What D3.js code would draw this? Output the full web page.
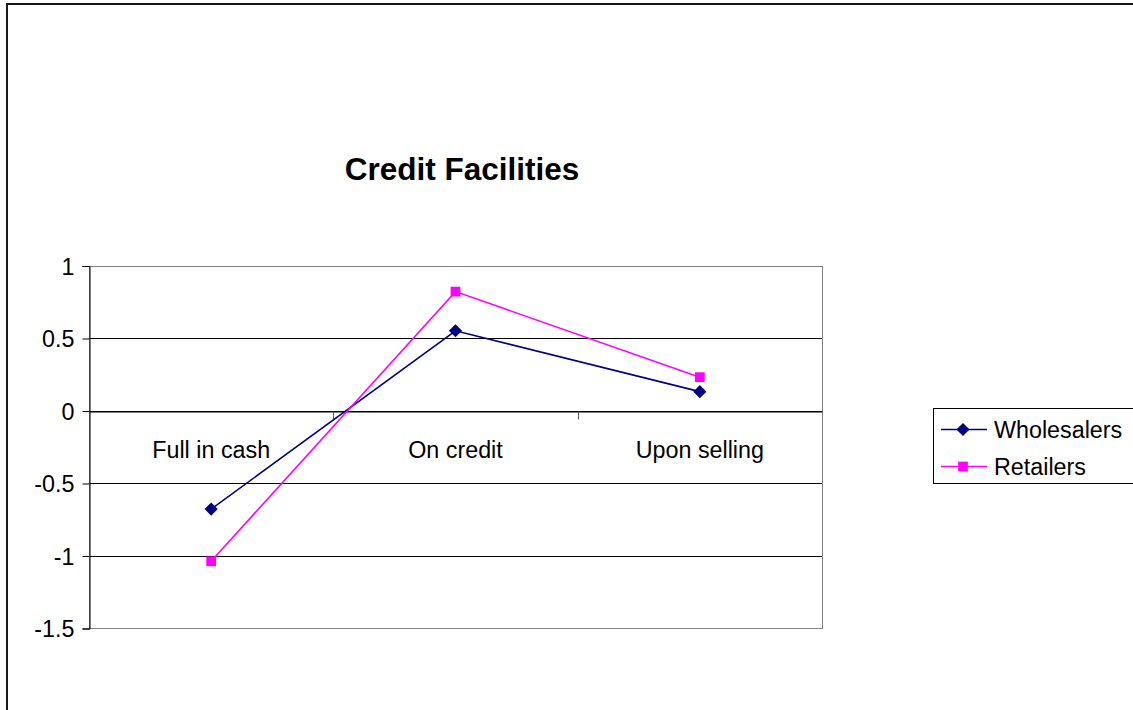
<!DOCTYPE html>
<html>
<head>
<meta charset="utf-8">
<script src="https://cdn.jsdelivr.net/npm/d3@7"></script>
<style>
  html, body { margin: 0; padding: 0; background: #fff; }
  svg { display: block; font-family: "Liberation Sans", Arial, sans-serif; }
</style>
</head>
<body>
<svg id="chart" width="1133" height="710"></svg>
<script>
// Payment terms compared across two trader groups
const categories = ["Full in cash", "On credit", "Upon selling"];
const wholesalers = [-0.68, 0.55, 0.13];
const retailers = [-1.04, 0.82, 0.23];
const yTicks = [1, 0.5, 0, -0.5, -1, -1.5];
const yTickLabels = ["1", "0.5", "0", "-0.5", "-1", "-1.5"];
const seriesNames = ["Wholesalers", "Retailers"];
const seriesColors = ["#000080", "#FF00FF"];

const svg = d3.select("#chart");
const W = 1133, H = 710;

// Chart frame
svg.append("rect")
  .attr("x", 7).attr("y", 4)
  .attr("width", W + 20).attr("height", H + 20)
  .attr("fill", "#fff")
  .attr("stroke", "#1a1a1a").attr("stroke-width", 2);

// Plot area geometry
const plot = { left: 89, right: 822, top: 265.5, bottom: 628 };

const x = d3.scaleBand().domain(categories).range([plot.left, plot.right]);
const y = d3.scaleLinear().domain([-1.5, 1]).range([plot.bottom, plot.top]);
const cx = c => x(c) + x.bandwidth() / 2;

// Title
svg.append("text")
  .attr("x", 462).attr("y", 179.5)
  .attr("text-anchor", "middle")
  .attr("font-size", 31.5).attr("font-weight", "bold")
  .attr("fill", "#000")
  .text("Credit Facilities");

// Horizontal gridlines
svg.append("g")
  .selectAll("line")
  .data(yTicks.filter(t => t !== 1 && t !== -1.5))
  .join("line")
  .attr("x1", plot.left).attr("x2", plot.right)
  .attr("y1", d => Math.round(y(d)) + 0.5)
  .attr("y2", d => Math.round(y(d)) + 0.5)
  .attr("stroke", "#000").attr("stroke-width", 1);

// Plot area border
svg.append("rect")
  .attr("x", plot.left + 0.5).attr("y", Math.round(plot.top) + 0.5)
  .attr("width", plot.right - plot.left)
  .attr("height", Math.round(plot.bottom) - Math.round(plot.top))
  .attr("fill", "none")
  .attr("stroke", "#808080").attr("stroke-width", 1);

// Value axis
const yAxis = d3.axisLeft(y)
  .tickValues(yTicks)
  .tickSize(7)
  .tickPadding(8)
  .tickFormat((d, i) => yTickLabels[i]);

const yG = svg.append("g")
  .attr("transform", `translate(${plot.left + 0.5},0.5)`)
  .call(yAxis);
yG.select(".domain").attr("stroke", "#000");
yG.selectAll(".tick line").attr("stroke", "#000");
yG.selectAll(".tick text")
  .attr("font-size", 23.3)
  .attr("font-family", "Liberation Sans, Arial, sans-serif")
  .attr("fill", "#000")
  .attr("dy", "0.35em");

// Category axis on the zero line
const zeroY = Math.round(y(0)) + 0.5;
const xAxis = d3.axisBottom(x)
  .tickSize(0)
  .tickPadding(0)
  .tickFormat(d => d);

const xG = svg.append("g")
  .attr("transform", `translate(0,${zeroY})`)
  .call(xAxis);
xG.select(".domain").attr("stroke", "#000");
xG.selectAll(".tick text")
  .attr("font-size", 23.3)
  .attr("font-family", "Liberation Sans, Arial, sans-serif")
  .attr("fill", "#000")
  .attr("dy", 0)
  .attr("y", 46);

// Category boundary ticks
svg.append("g")
  .selectAll("line")
  .data(categories.slice(1))
  .join("line")
  .attr("x1", d => Math.round(x(d)) + 0.5)
  .attr("x2", d => Math.round(x(d)) + 0.5)
  .attr("y1", zeroY).attr("y2", zeroY + 8)
  .attr("stroke", "#555");

// Series
const series = [wholesalers, retailers];
const line = d3.line()
  .x((d, i) => cx(categories[i]))
  .y(d => y(d));

series.forEach((vals, s) => {
  svg.append("path")
    .datum(vals)
    .attr("d", line)
    .attr("fill", "none")
    .attr("stroke", seriesColors[s])
    .attr("stroke-width", 1.6);
});

const diamond = d3.symbol().type(d3.symbolDiamond2).size(110);
const square = d3.symbol().type(d3.symbolSquare).size(95);

svg.append("g")
  .selectAll("path")
  .data(wholesalers)
  .join("path")
  .attr("transform", (d, i) => `translate(${cx(categories[i])},${y(d)})`)
  .attr("d", diamond)
  .attr("fill", seriesColors[0]);

svg.append("g")
  .selectAll("path")
  .data(retailers)
  .join("path")
  .attr("transform", (d, i) => `translate(${cx(categories[i])},${y(d)})`)
  .attr("d", square)
  .attr("fill", seriesColors[1]);

// Legend
const legend = svg.append("g");
legend.append("rect")
  .attr("x", 933.5).attr("y", 408.5)
  .attr("width", 220).attr("height", 75)
  .attr("fill", "#fff")
  .attr("stroke", "#000").attr("stroke-width", 1);

const legendRows = [429.5, 466.5];
seriesNames.forEach((name, s) => {
  const ly = legendRows[s];
  legend.append("line")
    .attr("x1", 941).attr("x2", 987)
    .attr("y1", ly).attr("y2", ly)
    .attr("stroke", seriesColors[s]).attr("stroke-width", 1.6);
  legend.append("path")
    .attr("transform", `translate(963,${ly})`)
    .attr("d", s === 0 ? diamond : square)
    .attr("fill", seriesColors[s]);
  legend.append("text")
    .attr("x", 994).attr("y", ly)
    .attr("dy", "0.36em")
    .attr("font-size", 23.3)
    .attr("fill", "#000")
    .text(name);
});
</script>
</body>
</html>
